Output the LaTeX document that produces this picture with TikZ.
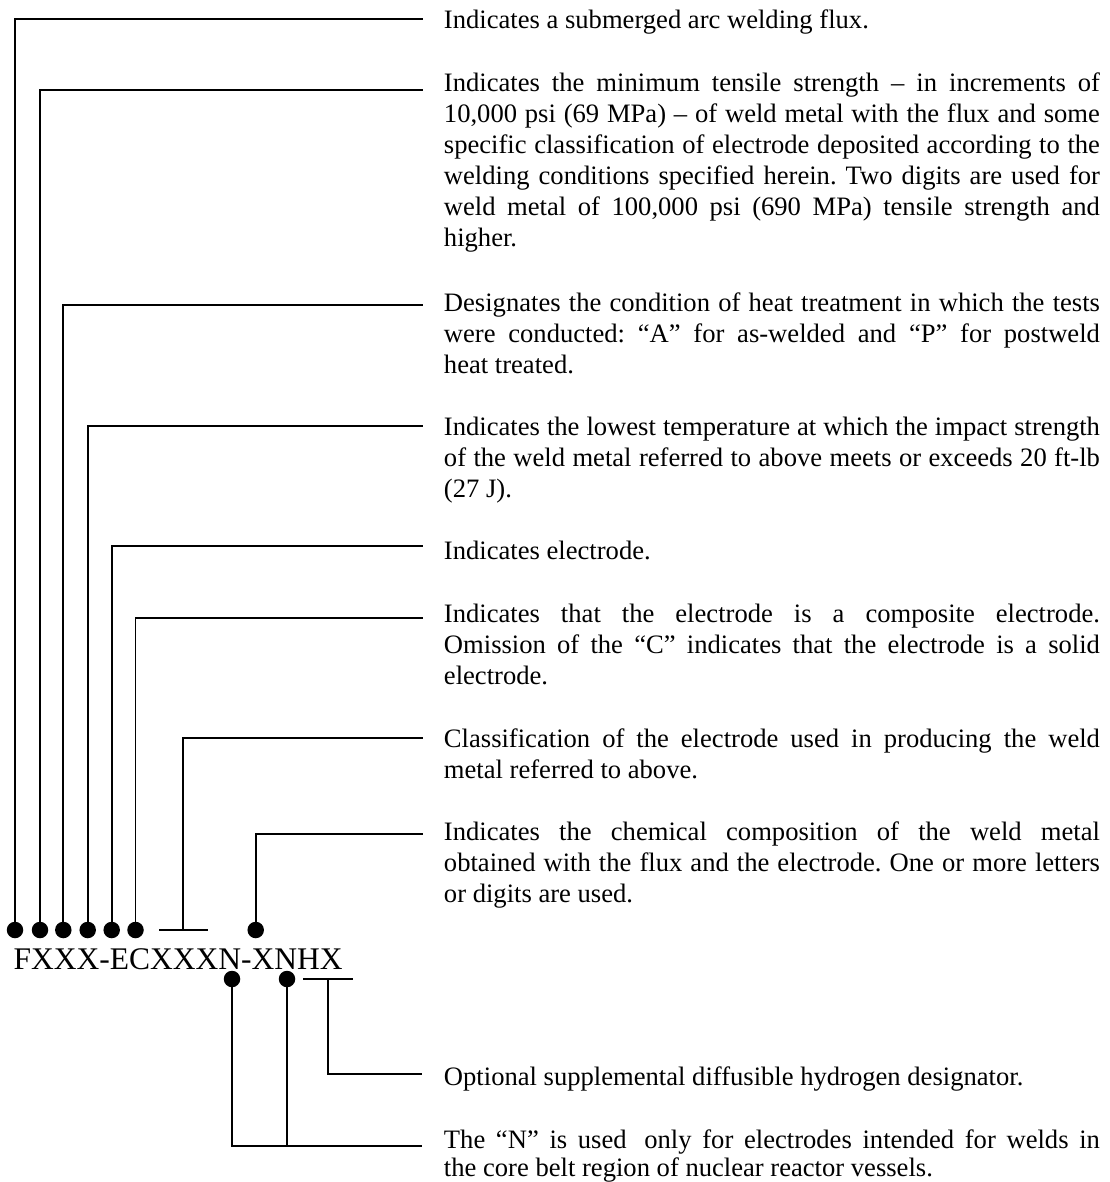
\documentclass[tikz,border=0pt]{standalone}
\usepackage{fontspec}
\setmainfont{Liberation Serif}
\frenchspacing
\newcommand\jl[1]{\makebox[656pt][s]{#1}\\}
\newcommand\blk[1]{\parbox[t]{656pt}{\fontsize{26.6}{31}\selectfont\frenchspacing #1}}
\begin{document}
\begin{tikzpicture}[x=1pt,y=-1pt,line width=1.9pt,
  dot/.style={circle,fill=black,draw=none,inner sep=0pt,minimum size=16.5pt},
  desc/.style={anchor=base west,inner sep=0pt},
  conn/.style={line width=1.9pt}]
\useasboundingbox (0,0) rectangle (1109,1182);

% designation
\node[anchor=base west,inner sep=0pt,font=\fontsize{31.5}{36}\selectfont] (des) at (12.7,969) {FXXX-ECXXXN-XNHX};

% descriptions
\node[desc] (b1) at (443,29) {\blk{Indicates a submerged arc welding flux.}};
\node[desc] (b2) at (443,92) {\blk{%
\jl{Indicates the minimum tensile strength – in increments of}%
\jl{10,000 psi (69 MPa) – of weld metal with the flux and some}%
\jl{specific classification of electrode deposited according to the}%
\jl{welding conditions specified herein. Two digits are used for}%
\jl{weld metal of 100,000 psi (690 MPa) tensile strength and}%
higher.}};
\node[desc] (b3) at (443,311) {\blk{%
\jl{Designates the condition of heat treatment in which the tests}%
\jl{were conducted: “A” for as-welded and “P” for postweld}%
heat treated.}};
\node[desc] (b4) at (443,435) {\blk{%
\jl{Indicates the lowest temperature at which the impact strength}%
\jl{of the weld metal referred to above meets or exceeds 20 ft-lb}%
(27 J).}};
\node[desc] (b5) at (443,559) {\blk{Indicates electrode.}};
\node[desc] (b6) at (443,622) {\blk{%
\jl{Indicates that the electrode is a composite electrode.}%
\jl{Omission of the “C” indicates that the electrode is a solid}%
electrode.}};
\node[desc] (b7) at (443,747) {\blk{%
\jl{Classification of the electrode used in producing the weld}%
metal referred to above.}};
\node[desc] (b8) at (443,840) {\blk{%
\jl{Indicates the chemical composition of the weld metal}%
\jl{obtained with the flux and the electrode. One or more letters}%
or digits are used.}};
\node[desc] (b9) at (443,1085) {\blk{Optional supplemental diffusible hydrogen designator.}};
\node[desc] (b10) at (443,1148) {\blk{%
\makebox[656pt][s]{The “N” is used\hspace{7pt} only for electrodes intended for welds in}\\[-3pt]%
the core belt region of nuclear reactor vessels.}};

% dots above
\node[dot] (d1) at (15,930) {};
\node[dot] (d2) at (40,930) {};
\node[dot] (d3) at (63.3,930) {};
\node[dot] (d4) at (87.7,930) {};
\node[dot] (d5) at (111.7,930) {};
\node[dot] (d6) at (135.5,930) {};
\node[dot] (d8) at (255.7,930) {};
% dots below
\node[dot] (n1) at (232,979) {};
\node[dot] (n2) at (287,979) {};

% T-bars
\coordinate (t7a) at (159.3,930);
\coordinate (t7b) at (208.3,930);
\coordinate (t7m) at (182.7,930);
\coordinate (tHa) at (303,979);
\coordinate (tHb) at (353,979);
\coordinate (tHm) at (328,979);

% connector ends
\coordinate (e1) at (423,19);
\coordinate (e2) at (423,90);
\coordinate (e3) at (423,305);
\coordinate (e4) at (423,426);
\coordinate (e5) at (423,546);
\coordinate (e6) at (423,618);
\coordinate (e7) at (423,738);
\coordinate (e8) at (423,834);
\coordinate (e9) at (422,1074);
\coordinate (e10) at (422,1146);

\draw[conn] (d1.center) |- (e1);
\draw[conn] (d2.center) |- (e2);
\draw[conn] (d3.center) |- (e3);
\draw[conn] (d4.center) |- (e4);
\draw[conn] (d5.center) |- (e5);
\draw[conn] (d6.center) |- (e6);
\draw[conn] (t7a) -- (t7b);
\draw[conn] (t7m) |- (e7);
\draw[conn] (d8.center) |- (e8);
\draw[conn] (tHa) -- (tHb);
\draw[conn] (tHm) |- (e9);
\draw[conn] (n1.center) |- (e10);
\draw[conn] (n2.center) -- (n2.center |- e10);
\end{tikzpicture}
\end{document}
